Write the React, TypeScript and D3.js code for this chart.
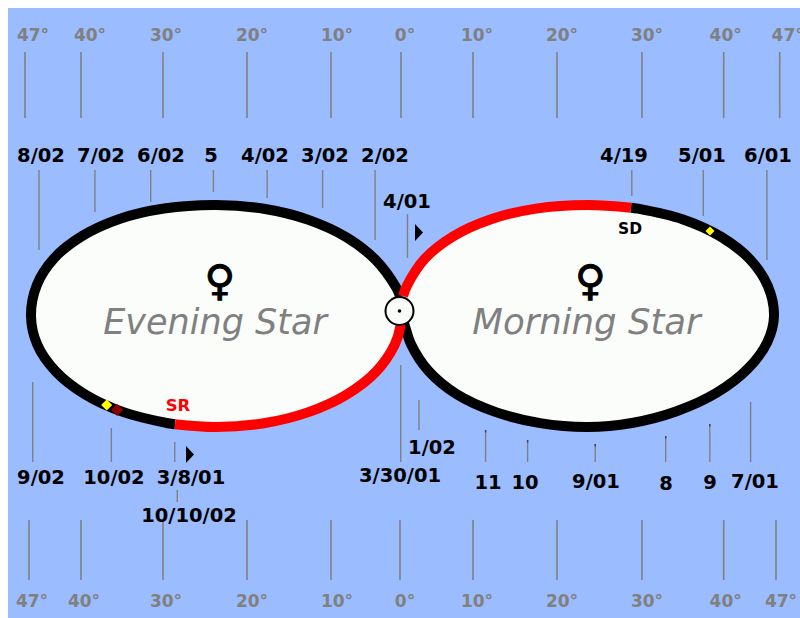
import * as d3 from "d3";

// elongation from the sun, degrees: minus is east (evening), plus is west (morning)
const degreeTicks = [-47, -40, -30, -20, -10, 0, 10, 20, 30, 40, 47];

// path of the planet: elongation and swing (-100 low, 100 high)
const eveningDirectE = [-0.14, -0.71, -3.54, -7.74, -12.68, -17.99, -23.69, -29.88, -35.32, -39.83, -43.34, -45.51, -46.25, -45.46, -43.15, -39.49, -34.82, -29.39, -28.57];
const eveningDirectS = [18, 25.9, 50, 70.7, 86.6, 96.6, 100, 96.8, 87.4, 72.2, 52.2, 28.1, 0, -25.9, -50, -70.7, -86.6, -96.6, -97.5];
const eveningRetroE = [-28.57, -23.69, -17.99, -12.68, -7.74, -3.54, -0.9, -0.14, -0.07];
const eveningRetroS = [-97.5, -100, -96.6, -86.6, -70.7, -50, -25.9, -10.8, -5];
const morningRetroE = [0.28, 0.85, 3.32, 7.28, 12.15, 17.5, 23.59, 28.71];
const morningRetroS = [18, 27.6, 51.7, 71.9, 87.2, 96.75, 100, 97.6];
const morningDirectE = [28.71, 29.53, 35.02, 39.65, 43.26, 45.51, 46.29, 45.44, 42.98, 39.13, 34.24, 28.8, 23.59, 18, 12.64, 7.69, 3.82, 1.39, 0.63, 0.35];
const morningDirectS = [97.6, 96.7, 87, 71.5, 51.2, 27.1, 0, -23.7, -47.8, -69.2, -85.8, -96.4, -100, -96.5, -86.4, -70.3, -49.5, -25.4, -10.8, -5];

const topDates = ["8/02", "7/02", "6/02", "5", "4/02", "3/02", "2/02", "4/19", "5/01", "6/01"];
const topElong = [-45.25, -38.3, -31.5, -24, -17.6, -11, -3.7, 28.8, 37.5, 45.4];

const bottomDates = ["9/02", "10/02", "3/8/01", "3/30/01", "11", "10", "9/01", "8", "9", "7/01"];
const bottomElong = [-46.5, -36.3, -28.6, 0.1, 11.5, 16.5, 24.5, 32.9, 38.3, 43.6];

// layout of the hand placed annotations, same order as the lists above
const topTickEnd = [250, 212, 202, 192, 198, 208, 240, 196, 216, 260];
const topLabelX = [41, 101, 161, 211, 265, 325, 385, 624, 702, 768];
const bottomTickStart = [382, 428, 442, 365, 430, 440, 444, 436, 424, 402];
const bottomLabelX = [41, 114, 191, 400, 488, 525, 596, 666, 710, 755];
const bottomLabelY = [477, 477, 477, 475, 482, 482, 481, 483, 482, 481];
const topDegDx = [8, 9, 3, 5, 6, 4, 4, 5, 5, 2, 8];
const bottomDegDx = [3, 3, 3, 5, 6, 5, 4, 5, 5, 2, 5];
const tippedTicks = ["11", "10", "9/01", "8", "9"];

const GREY = "#808080";
const BG = "#9bbcfe";
const WHITE = "#fbfdfb";
const FONT = "'DejaVu Sans', Verdana, sans-serif";

const xTop = d3.scaleLinear().domain(degreeTicks).range([25, 81, 163, 247, 331, 401, 473, 557, 642, 723.7, 779.7]);
const xBottom = d3.scaleLinear().domain(degreeTicks).range([29, 81, 163, 247, 331, 400, 473, 557, 642, 723.7, 776]);
const ySwing = d3.scaleLinear().domain([-100, 100]).range([427, 205]);

const curve = d3
  .line<[number, number]>()
  .x((d) => xTop(d[0]))
  .y((d) => ySwing(d[1]))
  .curve(d3.curveCatmullRom.alpha(0.5));

const zipped = (es: number[], ss: number[]) => es.map((e, i) => [e, ss[i]] as [number, number]);

function Venus({ x }: { x: number }) {
  return (
    <text x={x} y={295} textAnchor="middle" fontFamily={FONT} fontWeight="bold" fontSize={42} fill="#000" stroke="#000" strokeWidth={1}>
      ♀
    </text>
  );
}

function Pointer({ x, y }: { x: number; y: number }) {
  const d = d3.line()([
    [x, y],
    [x + 8, y + 8.5],
    [x, y + 17],
  ]);
  return <path d={`${d}Z`} fill="#000" />;
}

function Diamond({ e, s, r, fill }: { e: number; s: number; r: number; fill: string }) {
  const x = xTop(e);
  const y = ySwing(s);
  const d = d3.line()([
    [x - r, y],
    [x, y - r],
    [x + r, y],
    [x, y + r],
  ]);
  return <path d={`${d}Z`} fill={fill} />;
}

function DateLabel({ x, y, text }: { x: number; y: number; text: string }) {
  return (
    <text x={x} y={y} dy="0.36em" textAnchor="middle" fontFamily={FONT} fontWeight="bold" fontSize={19.5} fill="#000">
      {text}
    </text>
  );
}

export default function App() {
  const eveningBlack = zipped(eveningDirectE, eveningDirectS);
  const eveningRed = zipped(eveningRetroE, eveningRetroS);
  const morningRed = zipped(morningRetroE, morningRetroS);
  const morningBlack = zipped(morningDirectE, morningDirectS);

  return (
    <svg width={800} height={618} style={{ position: "absolute", left: 0, top: 0, display: "block" }}>
      <rect x={8} y={8} width={792} height={610} fill={BG} />

      {degreeTicks.map((d, i) => (
        <g key={i}>
          <line x1={xTop(d)} x2={xTop(d)} y1={52} y2={118} stroke={GREY} strokeWidth={1.6} />
          <text x={xTop(d) + topDegDx[i]} y={35} dy="0.36em" textAnchor="middle" fontFamily={FONT} fontWeight="bold" fontSize={17} fill={GREY}>
            {Math.abs(d)}°
          </text>
          <line x1={xBottom(d)} x2={xBottom(d)} y1={520} y2={580} stroke={GREY} strokeWidth={1.6} />
          <text x={xBottom(d) + bottomDegDx[i]} y={601} dy="0.36em" textAnchor="middle" fontFamily={FONT} fontWeight="bold" fontSize={17} fill={GREY}>
            {Math.abs(d)}°
          </text>
        </g>
      ))}

      {topDates.map((t, i) => (
        <g key={i}>
          <line x1={xTop(topElong[i])} x2={xTop(topElong[i])} y1={170} y2={topTickEnd[i]} stroke={GREY} strokeWidth={1.4} />
          <DateLabel x={topLabelX[i]} y={155} text={t} />
        </g>
      ))}
      {bottomDates.map((t, i) => (
        <g key={i}>
          <line x1={xBottom(bottomElong[i])} x2={xBottom(bottomElong[i])} y1={bottomTickStart[i]} y2={462} stroke={GREY} strokeWidth={1.4} />
          {tippedTicks.includes(t) && (
            <line x1={xBottom(bottomElong[i])} x2={xBottom(bottomElong[i])} y1={bottomTickStart[i]} y2={bottomTickStart[i] + 2.5} stroke="#444" strokeWidth={1.4} />
          )}
          <DateLabel x={bottomLabelX[i]} y={bottomLabelY[i]} text={t} />
        </g>
      ))}

      {/* the three that sit off the main rows */}
      <line x1={xTop(0.9)} x2={xTop(0.9)} y1={214} y2={258} stroke={GREY} strokeWidth={1.4} />
      <DateLabel x={407} y={201} text="4/01" />
      <line x1={xBottom(2.6)} x2={xBottom(2.6)} y1={400} y2={430} stroke={GREY} strokeWidth={1.4} />
      <DateLabel x={432} y={447} text="1/02" />
      <line x1={xBottom(-28.3)} x2={xBottom(-28.3)} y1={490} y2={502} stroke={GREY} strokeWidth={1.4} />
      <DateLabel x={189} y={515} text="10/10/02" />

      <path d={`${curve([...eveningBlack, ...eveningRed.slice(1)])}Z`} fill={WHITE} />
      <path d={`${curve([...morningRed, ...morningBlack.slice(1)])}Z`} fill={WHITE} />

      <g fill="none" strokeWidth={10}>
        <path d={curve(eveningBlack) ?? ""} stroke="#000" />
        <path d={curve(morningBlack) ?? ""} stroke="#000" />
        <path d={curve(eveningRed) ?? ""} stroke="#ff0000" />
        <path d={curve(morningRed) ?? ""} stroke="#ff0000" />
      </g>

      <Diamond e={38.32} s={76.6} r={4.5} fill="#ffff00" />
      <Diamond e={-35.6} s={-84.7} r={6} fill="#8b0000" />
      <Diamond e={-36.87} s={-80.2} r={5.5} fill="#ffff00" />

      <Pointer x={415} y={224} />
      <Pointer x={186} y={446} />

      <text x={630} y={228} dy="0.36em" textAnchor="middle" fontFamily={FONT} fontWeight="bold" fontSize={15.5} fill="#000">
        SD
      </text>
      <text x={178} y={405} dy="0.36em" textAnchor="middle" fontFamily={FONT} fontWeight="bold" fontSize={16.5} fill="#ff0000">
        SR
      </text>

      <Venus x={220} />
      <Venus x={590.5} />

      <text x={215} y={334} textAnchor="middle" fontFamily={FONT} fontStyle="italic" fontSize={35} fill={GREY}>
        Evening Star
      </text>
      <text x={586.5} y={334} textAnchor="middle" fontFamily={FONT} fontStyle="italic" fontSize={35.5} fill={GREY}>
        Morning Star
      </text>

      <circle cx={399.5} cy={311} r={14} fill={WHITE} stroke="#000" strokeWidth={2} />
      <circle cx={399.5} cy={311} r={1.8} fill="#000" />
    </svg>
  );
}
